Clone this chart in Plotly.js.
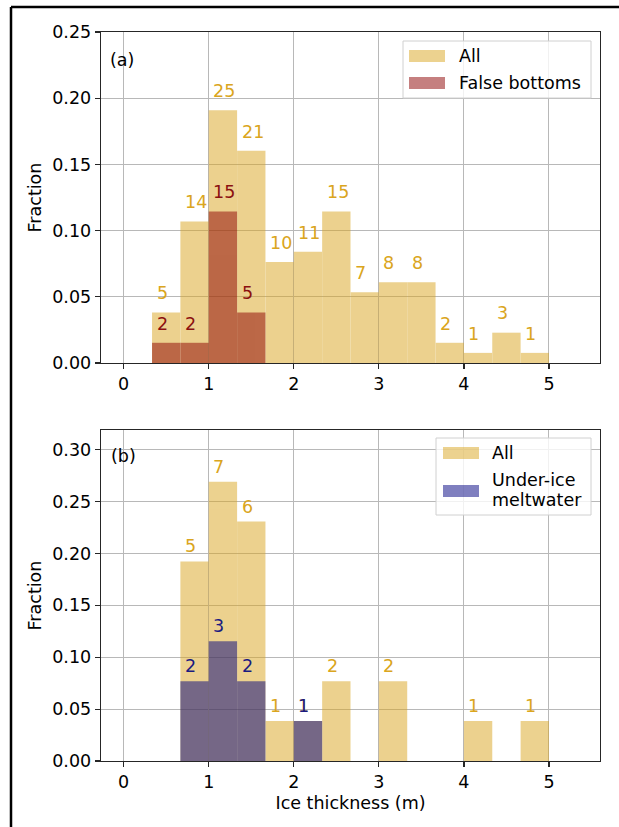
<!DOCTYPE html>
<html><head><meta charset="utf-8">
<script src="https://cdn.plot.ly/plotly-3.0.1.min.js"></script>
<style>html,body{margin:0;padding:0;background:#fff}#chart{width:619px;height:827px}</style>
</head><body><div id="chart"></div>
<script>
// ---- data ----
const binWidth = 1/3;
const binStarts = [0, 1/3, 2/3, 1, 4/3, 5/3, 2, 7/3, 8/3, 3, 10/3, 11/3, 4, 13/3, 14/3, 5];
const countsAllA = [0, 5, 14, 25, 21, 10, 11, 15, 7, 8, 8, 2, 1, 3, 1, 0];
const countsFalseBottoms = [0, 2, 2, 15, 5, 0, 0, 0, 0, 0, 0, 0, 0, 0, 0, 0];
const countsAllB = [0, 0, 5, 7, 6, 1, 1, 2, 0, 2, 0, 0, 1, 0, 1, 0];
const countsUnderIce = [0, 0, 2, 3, 2, 0, 1, 0, 0, 0, 0, 0, 0, 0, 0, 0];
const xTicks = [0, 1, 2, 3, 4, 5];
const yTicksA = [0, 0.05, 0.10, 0.15, 0.20, 0.25];
const yTicksB = [0, 0.05, 0.10, 0.15, 0.20, 0.25, 0.30];

// ---- styling ----
const FONT = 'DejaVu Sans, Liberation Sans, sans-serif';
const FS = 17.5;
const cAll = 'rgb(218,165,32)';
const cFB = 'rgb(139,0,0)';
const cUI = 'rgb(0,0,128)';
const W = 619, H = 827, L = 101, R = 19, T = 32, B = 66;
const PW = W - L - R, PH = H - T - B;
const PX = px => (px - L) / PW;
const PY = py => (H - B - py) / PH;

const totalA = countsAllA.reduce((a, b) => a + b, 0);
const totalB = countsAllB.reduce((a, b) => a + b, 0);
const centers = binStarts.map(s => s + binWidth / 2);

function barTrace(counts, total, color, xa, ya) {
  return {
    type: 'bar', x: centers, y: counts.map(c => c / total), width: binWidth,
    marker: {color: color, line: {width: 0}}, opacity: 0.5,
    xaxis: xa, yaxis: ya, showlegend: false, hoverinfo: 'skip'
  };
}

const data = [
  barTrace(countsAllA, totalA, cAll, 'x', 'y'),
  barTrace(countsFalseBottoms, totalA, cFB, 'x', 'y'),
  barTrace(countsAllB, totalB, cAll, 'x2', 'y2'),
  barTrace(countsUnderIce, totalB, cUI, 'x2', 'y2')
];

const annotations = [];
function labels(counts, total, color, xr, yr) {
  counts.forEach((c, i) => {
    if (c > 0) annotations.push({
      x: binStarts[i] + 0.03, y: c / total + 0.0145, xref: xr, yref: yr,
      text: String(c), showarrow: false, xanchor: 'left', yanchor: 'middle',
      font: {family: FONT, size: FS, color: color}
    });
  });
}
labels(countsAllA, totalA, cAll, 'x', 'y');
labels(countsFalseBottoms, totalA, '#8b1010', 'x', 'y');
labels(countsAllB, totalB, cAll, 'x2', 'y2');
labels(countsUnderIce, totalB, '#1a1a80', 'x2', 'y2');

function paperText(text, px, py, anchor) {
  annotations.push({x: PX(px), y: PY(py), xref: 'paper', yref: 'paper', text: text,
    showarrow: false, xanchor: anchor || 'left', yanchor: 'middle',
    font: {family: FONT, size: FS, color: '#000'}});
}
paperText('(a)', 108, 60);
paperText('(b)', 109, 456);
paperText('All', 457, 56);
paperText('False bottoms', 457, 83);
paperText('All', 490, 453);
paperText('Under-ice', 490, 480);
paperText('meltwater', 490, 500);

function rect(x0, y0, x1, y1, fill, line) {
  return {type: 'rect', xref: 'paper', yref: 'paper', x0: PX(x0), x1: PX(x1), y0: PY(y1), y1: PY(y0),
    fillcolor: fill, line: line || {width: 0}, layer: 'above'};
}
const shapes = [
  rect(403, 41, 591, 98, 'rgba(255,255,255,0.8)', {color: '#d0d0d0', width: 1}),
  rect(409, 50, 445, 62, 'rgba(218,165,32,0.5)'),
  rect(409, 77, 445, 89, 'rgba(139,0,0,0.5)'),
  rect(436, 438, 591, 515, 'rgba(255,255,255,0.8)', {color: '#d0d0d0', width: 1}),
  rect(443, 447, 479, 459, 'rgba(218,165,32,0.5)'),
  rect(443, 485, 479, 497, 'rgba(0,0,128,0.5)'),
  {type: 'line', xref: 'paper', yref: 'paper', x0: PX(11), x1: PX(619), y0: PY(7), y1: PY(7), line: {color: '#000', width: 2.5}},
  {type: 'line', xref: 'paper', yref: 'paper', x0: PX(11), x1: PX(11), y0: PY(7), y1: PY(827), line: {color: '#000', width: 2.5}}
];

const axBase = {
  showline: true, mirror: true, linecolor: '#262626', linewidth: 1.3,
  ticks: 'outside', ticklen: 5, tickwidth: 1.2, tickcolor: '#262626',
  showgrid: true, gridcolor: '#b8b8b8', gridwidth: 1, zeroline: false,
  tickfont: {family: FONT, size: FS, color: '#000'}, fixedrange: true
};
const xRange = [-0.2667, 5.6];

const layout = {
  width: W, height: H, margin: {l: L, r: R, t: T, b: B},
  paper_bgcolor: '#fff', plot_bgcolor: '#fff', barmode: 'overlay', showlegend: false,
  font: {family: FONT, size: FS, color: '#000'},
  xaxis: Object.assign({}, axBase, {domain: [0, 1], anchor: 'y', range: xRange, tickvals: xTicks, ticktext: xTicks.map(String)}),
  yaxis: Object.assign({}, axBase, {domain: [PY(363), 1], anchor: 'x', range: [0, 0.25], tickvals: yTicksA,
    ticktext: yTicksA.map(v => v.toFixed(2)), title: {text: 'Fraction', font: {family: FONT, size: FS}, standoff: 6}}),
  xaxis2: Object.assign({}, axBase, {domain: [0, 1], anchor: 'y2', range: xRange, tickvals: xTicks, ticktext: xTicks.map(String),
    title: {text: 'Ice thickness (m)', font: {family: FONT, size: FS}, standoff: 5}}),
  yaxis2: Object.assign({}, axBase, {domain: [0, PY(430)], anchor: 'x2', range: [0, 0.319], tickvals: yTicksB,
    ticktext: yTicksB.map(v => v.toFixed(2)), title: {text: 'Fraction', font: {family: FONT, size: FS}, standoff: 6}}),
  annotations: annotations, shapes: shapes
};

Plotly.newPlot('chart', data, layout, {staticPlot: true, displayModeBar: false});
</script>
</body></html>
